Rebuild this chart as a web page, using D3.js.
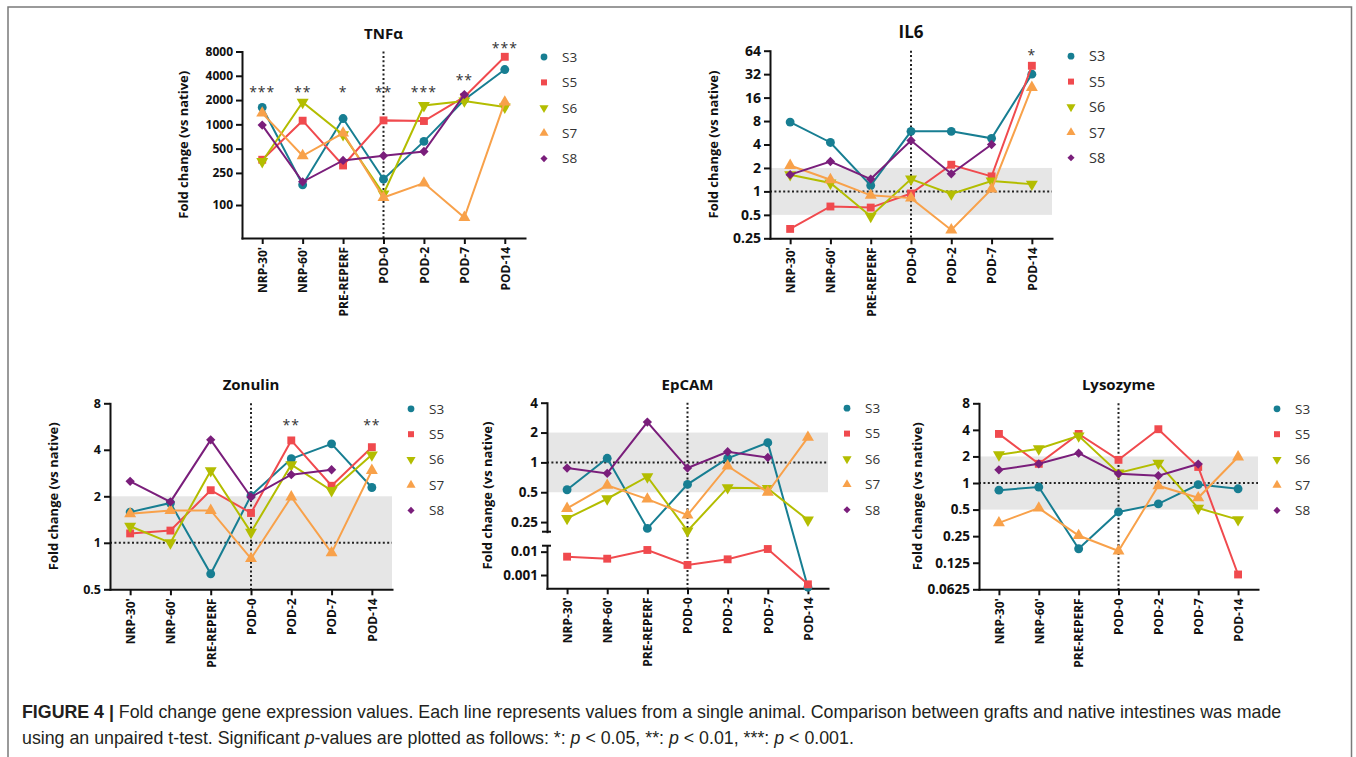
<!DOCTYPE html>
<html>
<head>
<meta charset="utf-8">
<script src="https://cdn.jsdelivr.net/npm/d3@7"></script>
<style>
body { margin: 0; background: #fff; }
svg text { font-family: "Open Sans", sans-serif; }
.caption { font-family: "Liberation Sans", Arial, sans-serif; }
</style>
</head>
<body>
<svg id="fig" width="1356" height="757"></svg>
<script>
// 类别和样本
let categories = ["NRP-30'", "NRP-60'", "PRE-REPERF", "POD-0", "POD-2", "POD-7", "POD-14"];
let series_names = ["S3", "S5", "S6", "S7", "S8"];
let series_colors = ["#177e92", "#f04a4e", "#b3bd00", "#f8a14a", "#7a1e7b"];

// TNFα
let tnf_s3 = [1620, 178, 1180, 209, 615, 2020, 4780];
let tnf_s5 = [364, 1110, 309, 1120, 1100, 2190, 6880];
let tnf_s6 = [346, 1880, 744, 137, 1710, 1950, 1640];
let tnf_s7 = [1380, 408, 780, 124, 187, 70, 1890];
let tnf_s8 = [980, 194, 357, 408, 461, 2340, null];
let tnf_ticks = [100, 250, 500, 1000, 2000, 4000, 8000];
let tnf_stars = ["***", "**", "*", "**", "***", "**", "***"];
let tnf_star_level = [2800, 2800, 2800, 2800, 2800, 4000, 9800];

// IL6
let il6_s3 = [7.75, 4.25, 1.19, 5.9, 5.9, 4.8, 32];
let il6_s5 = [0.33, 0.64, 0.62, 0.94, 2.2, 1.56, 41];
let il6_s6 = [1.64, 1.28, 0.48, 1.44, 0.93, 1.36, 1.24];
let il6_s7 = [2.15, 1.41, 0.89, 0.82, 0.32, 1.07, 21.6];
let il6_s8 = [1.64, 2.42, 1.44, 4.5, 1.68, 4.0, null];
let il6_ticks = [0.25, 0.5, 1, 2, 4, 8, 16, 32, 64];
let il6_stars = ["", "", "", "", "", "", "*"];
let il6_star_level = [0, 0, 0, 0, 0, 0, 64];

// Zonulin
let zon_s3 = [1.58, 1.81, 0.63, 2.02, 3.5, 4.37, 2.28];
let zon_s5 = [1.15, 1.2, 2.19, 1.56, 4.6, 2.34, 4.16];
let zon_s6 = [1.28, 1.0, 2.93, 1.17, 3.2, 2.18, 3.71];
let zon_s7 = [1.54, 1.62, 1.62, 0.79, 1.98, 0.86, 2.94];
let zon_s8 = [2.5, 1.84, 4.64, 1.98, 2.76, 2.97, null];
let zon_ticks = [0.5, 1, 2, 4, 8];
let zon_stars = ["", "", "", "", "**", "", "**"];
let zon_star_level = [0, 0, 0, 0, 6.1, 0, 6.1];

// EpCAM (断轴)
let epc_s3 = [0.53, 1.1, 0.216, 0.6, 1.1, 1.58, 0.0003];
let epc_s5 = [0.0061, 0.005, 0.0118, 0.0027, 0.0047, 0.013, 0.0004];
let epc_s6 = [0.272, 0.43, 0.717, 0.204, 0.556, 0.547, 0.262];
let epc_s7 = [0.343, 0.586, 0.426, 0.294, 0.92, 0.5, 1.79];
let epc_s8 = [0.877, 0.775, 2.55, 0.877, 1.28, 1.12, null];
let epc_ticks_upper = [0.25, 0.5, 1, 2, 4];
let epc_ticks_lower = [0.001, 0.01];

// Lysozyme
let lys_s3 = [0.83, 0.9, 0.18, 0.47, 0.58, 0.96, 0.86];
let lys_s5 = [3.6, 1.65, 3.6, 1.83, 4.07, 1.52, 0.092];
let lys_s6 = [2.09, 2.44, 3.42, 1.3, 1.68, 0.52, 0.385];
let lys_s7 = [0.354, 0.52, 0.254, 0.17, 0.93, 0.68, 1.97];
let lys_s8 = [1.41, 1.65, 2.18, 1.27, 1.21, 1.64, null];
let lys_ticks = [0.0625, 0.125, 0.25, 0.5, 1, 2, 4, 8];

let svg = d3.select("#fig");

// 外框
svg.append("rect")
    .attr("x", 8).attr("y", 7)
    .attr("width", 1343.5).attr("height", 800)
    .attr("fill", "none")
    .attr("stroke", "#7a7a7a")
    .attr("stroke-width", 1.5);

// 标记形状
function markerPath(i, size) {
    let types = [d3.symbolCircle, d3.symbolSquare, d3.symbolTriangle, d3.symbolTriangle, d3.symbolSquare];
    let scale = [1, 1, 1, 1, 0.7];
    return d3.symbol().type(types[i]).size(size * scale[i])();
}
function markerRotate(i) {
    if (i == 2) return " rotate(180)";
    if (i == 4) return " rotate(45)";
    return "";
}

function styleAxis(ax, fs) {
    ax.select(".domain").attr("stroke", "#111").attr("stroke-width", 2).attr("stroke-linecap", "square");
    ax.selectAll(".tick line").attr("stroke", "#111").attr("stroke-width", 2);
    ax.selectAll(".tick text")
        .attr("fill", "#111")
        .style("font-size", fs + "px")
        .style("font-weight", "bold")
        .style("font-family", "'Open Sans', sans-serif");
}

function drawPanel(p) {
    let g = svg.append("g");
    let x = d3.scalePoint().domain(categories).range([p.left, p.right]).padding(0.5);

    let yOf;
    let axes = [];
    if (p.broken) {
        let up = d3.scaleLog().domain(p.upperDomain).range([p.upperBottom, p.top]);
        let lo = d3.scaleLog().domain(p.lowerDomain).range([p.bottom, p.lowerTop]);
        yOf = v => (v >= 0.1 ? up(v) : lo(v));
        axes.push({scale: up, ticks: p.ticks});
        axes.push({scale: lo, ticks: p.lowerTicks});
    } else {
        let y = d3.scaleLog().domain(p.domain).range([p.bottom, p.top]);
        yOf = v => y(v);
        axes.push({scale: y, ticks: p.ticks});
    }

    // 灰色区域 0.5 - 2
    if (p.band) {
        g.append("rect")
            .attr("x", p.left)
            .attr("y", yOf(2))
            .attr("width", p.right - p.left)
            .attr("height", yOf(0.5) - yOf(2))
            .attr("fill", "#e6e6e6");
        g.append("line")
            .attr("x1", p.left).attr("x2", p.right)
            .attr("y1", yOf(1)).attr("y2", yOf(1))
            .attr("stroke", "#222")
            .attr("stroke-width", 2)
            .attr("stroke-dasharray", "2,2.4");
    }
    // POD-0 竖虚线
    g.append("line")
        .attr("x1", x("POD-0")).attr("x2", x("POD-0"))
        .attr("y1", p.top).attr("y2", p.bottom)
        .attr("stroke", "#222")
        .attr("stroke-width", 2)
        .attr("stroke-dasharray", "2,2.4");

    // 坐标轴
    let xa = g.append("g")
        .attr("transform", "translate(0," + p.bottom + ")")
        .call(d3.axisBottom(x).tickSize(6).tickSizeOuter(0));
    styleAxis(xa, 12);
    xa.selectAll(".tick text")
        .attr("transform", "rotate(-90)")
        .attr("text-anchor", "end")
        .attr("x", -9)
        .attr("y", 0)
        .attr("dy", "0.36em");

    axes.forEach(a => {
        let ya = g.append("g")
            .attr("transform", "translate(" + p.left + ",0)")
            .call(d3.axisLeft(a.scale).tickValues(a.ticks).tickFormat(d => String(d)).tickSize(6).tickSizeOuter(0));
        styleAxis(ya, p.tickFont);
        ya.selectAll(".tick text").attr("x", -9);
    });
    if (p.broken) {
        [p.upperBottom, p.lowerTop].forEach(yy => {
            g.append("line")
                .attr("x1", p.left - 5).attr("x2", p.left + 4)
                .attr("y1", yy).attr("y2", yy)
                .attr("stroke", "#111").attr("stroke-width", 2);
        });
    }

    // 折线和标记
    p.values.forEach((vals, i) => {
        let pts = vals.map((v, j) => ({c: categories[j], v: v})).filter(d => d.v != null);
        let line = d3.line().x(d => x(d.c)).y(d => yOf(d.v));
        g.append("path")
            .datum(pts)
            .attr("d", line)
            .attr("fill", "none")
            .attr("stroke", series_colors[i])
            .attr("stroke-width", 2);
        g.selectAll(".m" + i)
            .data(pts)
            .enter()
            .append("path")
            .attr("d", markerPath(i, 62))
            .attr("transform", d => "translate(" + x(d.c) + "," + yOf(d.v) + ")" + markerRotate(i))
            .attr("fill", series_colors[i]);
    });

    // 显著性
    if (p.stars) {
        p.stars.forEach((s, j) => {
            if (!s) return;
            g.append("text")
                .attr("x", x(categories[j]))
                .attr("y", yOf(p.starLevel[j]) + 9)
                .attr("text-anchor", "middle")
                .attr("fill", "#333")
                .style("font-size", "14px")
                .style("letter-spacing", "1px")
                .text(s);
        });
    }

    // 标题
    g.append("text")
        .attr("x", (p.left + p.right) / 2)
        .attr("y", p.top - 13)
        .attr("text-anchor", "middle")
        .attr("fill", "#111")
        .style("font-size", p.titleFont + "px")
        .style("font-weight", "bold")
        .text(p.title);

    // y轴标题
    g.append("text")
        .attr("transform", "translate(" + p.labelX + "," + ((p.top + p.bottom) / 2) + ") rotate(-90)")
        .attr("text-anchor", "middle")
        .attr("fill", "#111")
        .style("font-size", "13px")
        .style("font-weight", "bold")
        .text("Fold change (vs native)");

    // 图例
    series_names.forEach((s, i) => {
        let ly = p.top + 5.5 + i * 25.4;
        g.append("path")
            .attr("d", markerPath(i, 36))
            .attr("transform", "translate(" + (p.right + 19) + "," + ly + ")" + markerRotate(i))
            .attr("fill", series_colors[i]);
        g.append("text")
            .attr("x", p.right + 37)
            .attr("y", ly)
            .attr("dy", "0.36em")
            .attr("fill", "#333")
            .style("font-size", p.legendFont + "px")
            .text(s);
    });
}

let panels = [
    {title: "TNFα", left: 242, right: 525, top: 51.5, bottom: 238, labelX: 188,
     domain: [39, 8000], ticks: tnf_ticks, band: false, tickFont: 12, titleFont: 15, legendFont: 13.5,
     values: [tnf_s3, tnf_s5, tnf_s6, tnf_s7, tnf_s8], stars: tnf_stars, starLevel: tnf_star_level},
    {title: "IL6", left: 770, right: 1052, top: 50.7, bottom: 238.3, labelX: 718,
     domain: [0.25, 64], ticks: il6_ticks, band: true, tickFont: 14, titleFont: 17, legendFont: 14.5,
     values: [il6_s3, il6_s5, il6_s6, il6_s7, il6_s8], stars: il6_stars, starLevel: il6_star_level},
    {title: "Zonulin", left: 110, right: 392, top: 403.3, bottom: 589.3, labelX: 58,
     domain: [0.5, 8], ticks: zon_ticks, band: true, tickFont: 12.5, titleFont: 15, legendFont: 13.5,
     values: [zon_s3, zon_s5, zon_s6, zon_s7, zon_s8], stars: zon_stars, starLevel: zon_star_level},
    {title: "EpCAM", left: 547, right: 828, top: 402.7, bottom: 588.3, labelX: 492,
     broken: true, upperDomain: [0.2, 4], upperBottom: 531.7, lowerDomain: [0.00027, 0.018], lowerTop: 545.7,
     ticks: epc_ticks_upper, lowerTicks: epc_ticks_lower, band: true, tickFont: 13.5, titleFont: 15, legendFont: 13.5,
     values: [epc_s3, epc_s5, epc_s6, epc_s7, epc_s8]},
    {title: "Lysozyme", left: 979, right: 1258, top: 403.3, bottom: 589.3, labelX: 922,
     domain: [0.0625, 8], ticks: lys_ticks, band: true, tickFont: 13.5, titleFont: 15, legendFont: 13.5,
     values: [lys_s3, lys_s5, lys_s6, lys_s7, lys_s8]}
];

panels.forEach(drawPanel);

// 图注
let cap1 = svg.append("text").attr("class", "caption").attr("x", 22).attr("y", 718)
    .attr("fill", "#231f20").style("font-size", "17.8px");
cap1.append("tspan").style("font-weight", "bold").text("FIGURE 4 | ");
cap1.append("tspan").text("Fold change gene expression values. Each line represents values from a single animal. Comparison between grafts and native intestines was made");

let cap2 = svg.append("text").attr("class", "caption").attr("x", 22).attr("y", 744)
    .attr("fill", "#231f20").style("font-size", "17.8px");
let parts = [
    ["using an unpaired t-test. Significant ", false], ["p", true], ["-values are plotted as follows: *: ", false],
    ["p", true], [" < 0.05, **: ", false], ["p", true], [" < 0.01, ***: ", false], ["p", true], [" < 0.001.", false]
];
parts.forEach(pt => {
    cap2.append("tspan").style("font-style", pt[1] ? "italic" : "normal").text(pt[0]);
});
</script>
</body>
</html>
